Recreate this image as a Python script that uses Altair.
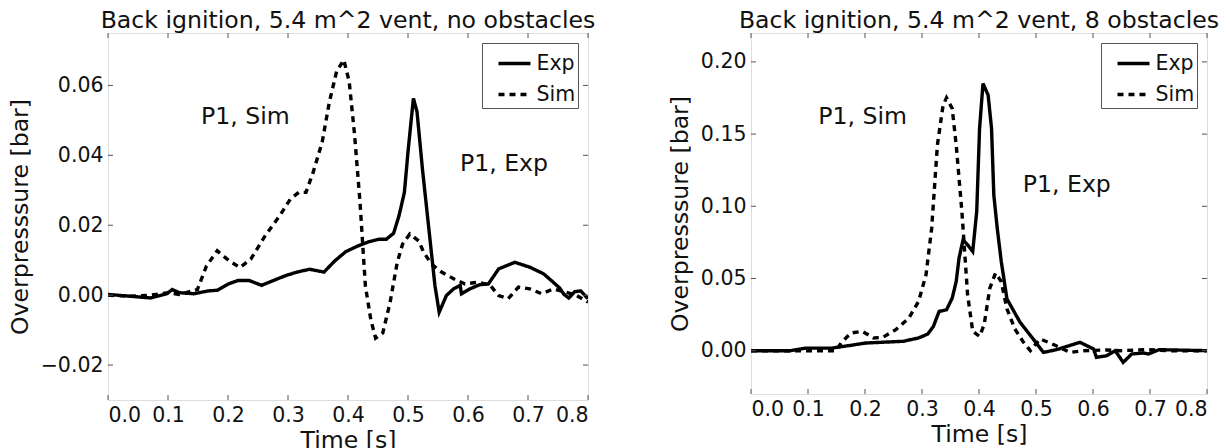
import altair as alt
import pandas as pd

FONT = "DejaVu Sans"

# ---------------- Left panel: no obstacles ----------------
L_exp_t = [0.0, 0.036, 0.071, 0.098, 0.107, 0.119, 0.143, 0.167, 0.182, 0.202, 0.217, 0.235,
           0.256, 0.280, 0.298, 0.315, 0.336, 0.360, 0.378, 0.396, 0.414, 0.435, 0.452, 0.464,
           0.476, 0.485, 0.494, 0.500, 0.509, 0.515, 0.524, 0.536, 0.545, 0.552, 0.564, 0.576,
           0.587, 0.589, 0.603, 0.620, 0.634, 0.651, 0.678, 0.703, 0.726, 0.742, 0.753, 0.760,
           0.768, 0.778, 0.788, 0.800]
L_exp_p = [0.0002, -0.0003, -0.0008, 0.0004, 0.0016, 0.0007, 0.0004, 0.0012, 0.0014, 0.0033, 0.0042, 0.0042,
           0.0028, 0.0045, 0.0057, 0.0066, 0.0074, 0.0066, 0.0098, 0.0124, 0.0139, 0.0153, 0.0160, 0.0160,
           0.0177, 0.0227, 0.0294, 0.0410, 0.0563, 0.0525, 0.0362, 0.0170, 0.0026, -0.0049, -0.0001, 0.0018,
           0.0028, 0.0004, 0.0018, 0.0030, 0.0032, 0.0075, 0.0094, 0.0080, 0.0061, 0.0037, 0.0020, 0.0002,
           -0.0008, 0.0010, 0.0012, -0.0010]

L_sim_t = [0.0, 0.036, 0.071, 0.101, 0.119, 0.149, 0.164, 0.182, 0.202, 0.220, 0.238, 0.262,
           0.286, 0.304, 0.318, 0.330, 0.342, 0.357, 0.369, 0.381, 0.393, 0.402, 0.411, 0.420,
           0.429, 0.438, 0.446, 0.458, 0.470, 0.482, 0.491, 0.503, 0.518, 0.526, 0.539, 0.556,
           0.576, 0.595, 0.617, 0.637, 0.651, 0.667, 0.684, 0.703, 0.723, 0.742, 0.760, 0.780, 0.800]
L_sim_p = [0.0, -0.0003, 0.0, 0.0007, 0.0002, 0.0016, 0.0083, 0.0127, 0.0098, 0.0079, 0.0103, 0.0170,
           0.0227, 0.0275, 0.0294, 0.0294, 0.0352, 0.0438, 0.0553, 0.0640, 0.0673, 0.0611, 0.0458, 0.0266,
           0.0026, -0.0070, -0.0123, -0.0108, -0.0022, 0.0093, 0.0146, 0.0175, 0.0155, 0.0123, 0.0089, 0.0066,
           0.0047, 0.0032, 0.0037, 0.0028, -0.0001, -0.0010, 0.0023, 0.0018, 0.0004, 0.0018, 0.0010, 0.0000, -0.0020]

# ---------------- Right panel: 8 obstacles ----------------
R_exp_t = [0.0, 0.069, 0.096, 0.142, 0.175, 0.201, 0.267, 0.294, 0.310, 0.320, 0.330, 0.343,
           0.353, 0.360, 0.365, 0.372, 0.380, 0.389, 0.396, 0.401, 0.407, 0.416, 0.422, 0.426,
           0.432, 0.439, 0.449, 0.472, 0.495, 0.513, 0.536, 0.577, 0.601, 0.606, 0.624, 0.639,
           0.653, 0.668, 0.688, 0.697, 0.716, 0.800]
R_exp_p = [0.0, 0.0, 0.0018, 0.0018, 0.0037, 0.0053, 0.0065, 0.0088, 0.0115, 0.0168, 0.0272, 0.0283,
           0.0364, 0.0479, 0.0641, 0.0767, 0.0733, 0.0687, 0.0963, 0.1539, 0.1850, 0.1770, 0.1539, 0.1078,
           0.0848, 0.0620, 0.0359, 0.0197, 0.0081, -0.0012, 0.0007, 0.0058, 0.0012, -0.0046, -0.0035, 0.0,
           -0.0081, -0.0023, -0.0016, -0.0023, 0.0007, 0.0]

R_sim_t = [0.0, 0.083, 0.149, 0.158, 0.175, 0.195, 0.215, 0.231, 0.254, 0.277, 0.294, 0.307,
           0.317, 0.327, 0.337, 0.343, 0.353, 0.360, 0.370, 0.380, 0.389, 0.401, 0.409, 0.419,
           0.429, 0.439, 0.449, 0.463, 0.478, 0.490, 0.507, 0.522, 0.560, 0.583, 0.624, 0.647,
           0.697, 0.729, 0.800]
R_sim_p = [0.0, 0.0, 0.0, 0.0053, 0.0122, 0.0134, 0.0088, 0.0092, 0.0145, 0.0226, 0.0341, 0.0525,
           0.0848, 0.1424, 0.1700, 0.1751, 0.1677, 0.1424, 0.0963, 0.0387, 0.0134, 0.0099, 0.0180, 0.0433,
           0.0537, 0.0479, 0.0290, 0.0150, 0.0058, 0.0, 0.0081, 0.0058, -0.0012, 0.0, 0.0005, 0.0,
           0.0007, 0.0, 0.0]

x_ticks = [0.0, 0.1, 0.2, 0.3, 0.4, 0.5, 0.6, 0.7, 0.8]
L_y_ticks = [-0.02, 0.0, 0.02, 0.04, 0.06]
R_y_ticks = [0.0, 0.05, 0.10, 0.15, 0.20]

L_title = "Back ignition, 5.4 m^2 vent, no obstacles"
R_title = "Back ignition, 5.4 m^2 vent, 8 obstacles"

L_labels = ["P1, Sim", "P1, Exp"]
L_label_t = [0.229, 0.660]
L_label_p = [0.0510, 0.0374]
R_labels = ["P1, Sim", "P1, Exp"]
R_label_t = [0.196, 0.554]
R_label_p = [0.162, 0.115]

series = ["Exp", "Sim"]

BIG = 23.6
SMALL = 20.5


def panel(exp_t, exp_p, sim_t, sim_p, ydom, yticks, ytfmt, title, lab, lab_t, lab_p,
          W, H, shift_down):
    df = pd.concat([
        pd.DataFrame({"t": exp_t, "p": exp_p, "s": "Exp", "i": range(len(exp_t))}),
        pd.DataFrame({"t": sim_t, "p": sim_p, "s": "Sim", "i": range(len(sim_t))}),
    ])
    xs = alt.Scale(domain=[0, 0.8], nice=False, zero=False)
    ys = alt.Scale(domain=ydom, nice=False, zero=False)
    base = alt.Chart(df)
    lines = base.mark_line(strokeWidth=3.4, color="black", clip=True).encode(
        x=alt.X("t:Q", scale=xs, title="Time [s]",
                axis=alt.Axis(values=x_ticks, format=".1f", tickSize=0, domain=False,
                              grid=False, labelPadding=5, titlePadding=3,
                              labelFontSize=SMALL, titleFontSize=BIG, labelFont=FONT,
                              titleFont=FONT, titleFontWeight="normal",
                              labelColor="#111", titleColor="#111")),
        y=alt.Y("p:Q", scale=ys, title="Overpresssure [bar]",
                axis=alt.Axis(values=yticks, format=ytfmt, tickSize=0, domain=False,
                              grid=False, labelPadding=5, titlePadding=8,
                              labelFontSize=SMALL, titleFontSize=BIG, labelFont=FONT,
                              titleFont=FONT, titleFontWeight="normal",
                              labelColor="#111", titleColor="#111")),
        strokeDash=alt.StrokeDash("s:N", scale=alt.Scale(domain=series, range=[[1, 0], [6, 5]]),
                                  legend=alt.Legend(orient="top-right", offset=10, title=None,
                                                    labelFontSize=SMALL, labelFont=FONT,
                                                    labelColor="#111",
                                                    labelExpr="datum.label + '\u00a0\u00a0'",
                                                    symbolType="stroke", symbolSize=1024,
                                                    symbolStrokeWidth=3.4, symbolStrokeColor="black",
                                                    symbolOffset=12,
                                                    strokeColor="#555", fillColor="white",
                                                    padding=2.5, rowPadding=2, labelOffset=4,
                                                    cornerRadius=0)),
        detail="s:N",
        order="i:Q",
    )
    xt = pd.DataFrame({"v": x_ticks})
    yt = pd.DataFrame({"v": yticks})
    tick_style = dict(color="#555", strokeWidth=1)
    xb = alt.Chart(xt).mark_rule(**tick_style).encode(
        x=alt.X("v:Q", scale=xs), y=alt.value(H), y2=alt.value(H - 5))
    xtop = alt.Chart(xt).mark_rule(**tick_style).encode(
        x=alt.X("v:Q", scale=xs), y=alt.value(0), y2=alt.value(5))
    yl = alt.Chart(yt).mark_rule(**tick_style).encode(
        y=alt.Y("v:Q", scale=ys), x=alt.value(0), x2=alt.value(5))
    yr = alt.Chart(yt).mark_rule(**tick_style).encode(
        y=alt.Y("v:Q", scale=ys), x=alt.value(W - 5), x2=alt.value(W))
    ann = alt.Chart(pd.DataFrame({"t": lab_t, "p": lab_p, "l": lab})).mark_text(
        fontSize=BIG, font=FONT, color="#111").encode(
        x=alt.X("t:Q", scale=xs), y=alt.Y("p:Q", scale=ys), text="l:N")
    ttl = alt.Chart(pd.DataFrame({"l": [title]})).mark_text(
        fontSize=BIG, font=FONT, color="#111", baseline="alphabetic", align="center").encode(
        x=alt.value(W / 2), y=alt.value(-5), text="l:N")
    out = alt.layer(lines, xb, xtop, yl, yr, ann, ttl)
    # tiny white title used only as a vertical spacer above the panel
    return out.properties(width=W, height=H,
                          title=alt.TitleParams(".", fontSize=2, offset=shift_down,
                                                color="white"))


left = panel(L_exp_t, L_exp_p, L_sim_t, L_sim_p, [-0.03, 0.075], L_y_ticks, ".2f",
             L_title, L_labels, L_label_t, L_label_p, 480, 367, 0)
right = panel(R_exp_t, R_exp_p, R_sim_t, R_sim_p, [-0.03, 0.22], R_y_ticks, ".2f",
              R_title, R_labels, R_label_t, R_label_p, 456, 361, 7)

chart = alt.hconcat(left, right, spacing=71).resolve_scale(
    strokeDash="independent", x="independent", y="independent"
).resolve_legend(strokeDash="independent").properties(
    padding={"left": -1, "top": -9, "right": 0, "bottom": 0}
).configure_view(stroke="#555", strokeWidth=1.2).configure(background="white")

chart.save("out.html", embed_options={"renderer": "svg", "actions": False})
